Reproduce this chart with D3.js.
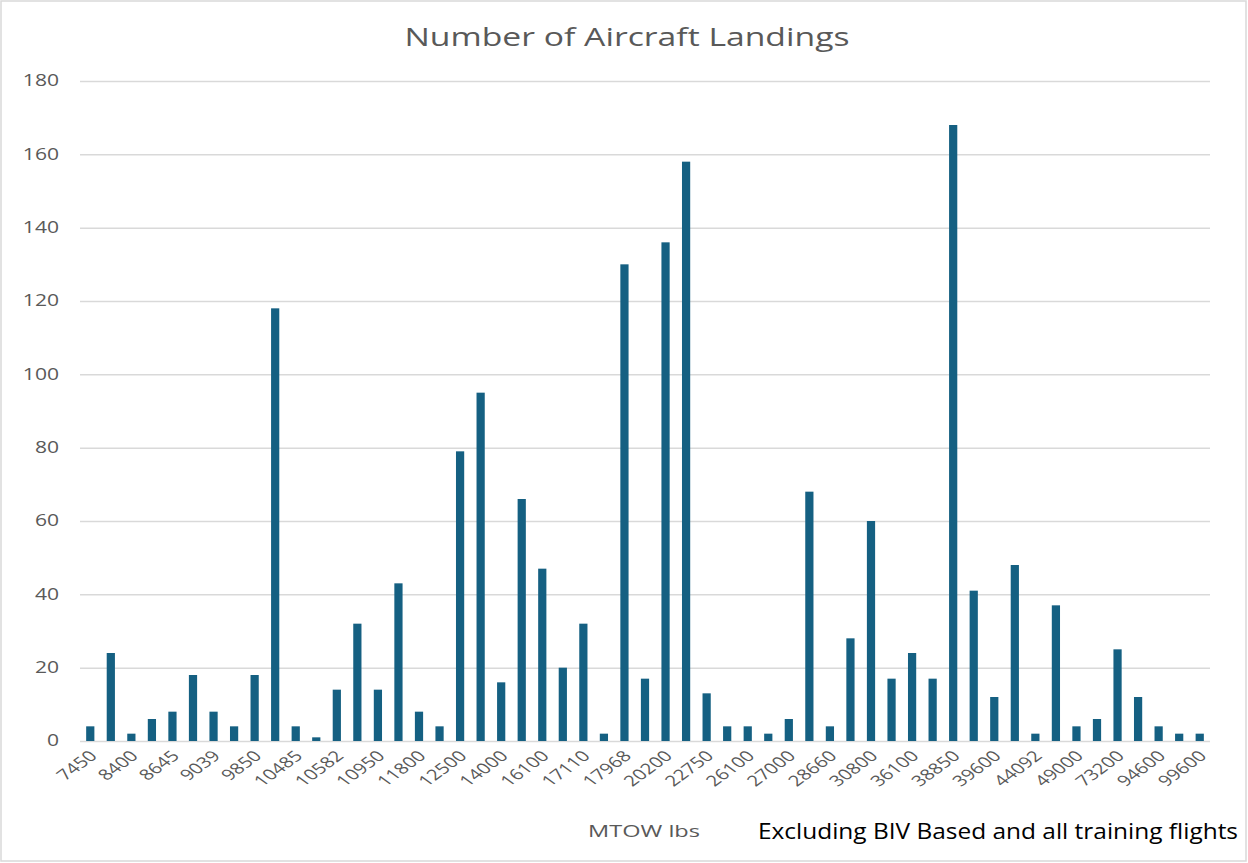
<!DOCTYPE html>
<html>
<head>
<meta charset="utf-8">
<script src="https://cdn.jsdelivr.net/npm/d3@7"></script>
<style>
  body { margin: 0; background: #fff; }
  text { font-family: "Open Sans", sans-serif; }
</style>
</head>
<body>
<svg id="chart"></svg>
<script>
const categories = [
  "7450", "7500", "8400", "8500", "8645", "8800", "9039", "9300", "9850", "10000",
  "10485", "10500", "10582", "10600", "10950", "11000", "11800", "12000", "12500", "13000",
  "14000", "15000", "16100", "16500", "17110", "17500", "17968", "19000", "20200", "21000",
  "22750", "24000", "26100", "26500", "27000", "28000", "28660", "29000", "30800", "33000",
  "36100", "38000", "38850", "39000", "39600", "42000", "44092", "47000", "49000", "60000",
  "73200", "85000", "94600", "98000", "99600"
];
const landings = [
  4, 24, 2, 6, 8, 18, 8, 4, 18, 118,
  4, 1, 14, 32, 14, 43, 8, 4, 79, 95,
  16, 66, 47, 20, 32, 2, 130, 17, 136, 158,
  13, 4, 4, 2, 6, 68, 4, 28, 60, 17,
  24, 17, 168, 41, 12, 48, 2, 37, 4, 6,
  25, 12, 4, 2, 2
];
const yTicks = [0, 20, 40, 60, 80, 100, 120, 140, 160, 180];

const width = 1248, height = 863;
const margin = { top: 81, right: 38, bottom: 122, left: 80 };
const stretch = 1.36; // the picture's text is wider than tall

const svg = d3.select("#chart").attr("width", width).attr("height", height);

// chart border
svg.append("rect")
  .attr("x", 1).attr("y", 1)
  .attr("width", width - 3).attr("height", height - 3)
  .attr("fill", "#fff")
  .attr("stroke", "#d9d9d9")
  .attr("stroke-width", 1.5);

const x = d3.scaleBand()
  .domain(d3.range(categories.length))
  .range([margin.left, width - margin.right])
  .paddingInner(0.6)
  .paddingOuter(0.3);

const y = d3.scaleLinear()
  .domain([0, 180])
  .range([height - margin.bottom, margin.top]);

// gridlines + y labels
const yAxis = svg.append("g")
  .attr("transform", `translate(${margin.left},0)`)
  .call(d3.axisLeft(y).tickValues(yTicks).tickSize(-(width - margin.left - margin.right)).tickPadding(0));
yAxis.select(".domain").remove();
yAxis.selectAll(".tick line").attr("stroke", "#d9d9d9").attr("stroke-width", 1.5);
yAxis.selectAll(".tick text")
  .attr("fill", "#595959")
  .attr("x", null)
  .style("font-size", "15.5px")
  .attr("transform", `translate(-21,0) scale(${stretch},1)`);

// bars
svg.append("g")
  .selectAll("rect")
  .data(landings)
  .join("rect")
  .attr("x", (d, i) => x(i))
  .attr("width", x.bandwidth())
  .attr("y", (d) => y(d))
  .attr("height", (d) => y(0) - y(d))
  .attr("fill", "#156082");

// x labels, every other category
const xAxis = svg.append("g")
  .attr("transform", `translate(0,${height - margin.bottom})`)
  .call(d3.axisBottom(x)
    .tickValues(d3.range(0, categories.length, 2))
    .tickFormat((i) => categories[i])
    .tickSize(0)
    .tickPadding(0));
xAxis.select(".domain").remove();
xAxis.selectAll(".tick text")
  .attr("fill", "#595959")
  .style("font-size", "15px")
  .attr("text-anchor", "end")
  .attr("y", 0)
  .attr("dy", null)
  .attr("transform", `translate(8,16) scale(${stretch},1) rotate(-45)`);

// title
svg.append("text")
  .attr("x", 627).attr("y", 46)
  .attr("text-anchor", "middle")
  .attr("fill", "#595959")
  .attr("textLength", 445)
  .attr("lengthAdjust", "spacingAndGlyphs")
  .style("font-size", "25px")
  .text("Number of Aircraft Landings");

// axis title
svg.append("text")
  .attr("x", 644).attr("y", 837)
  .attr("text-anchor", "middle")
  .attr("fill", "#595959")
  .attr("textLength", 112)
  .attr("lengthAdjust", "spacingAndGlyphs")
  .style("font-size", "16px")
  .text("MTOW lbs");

// note
svg.append("text")
  .attr("x", 1238).attr("y", 839)
  .attr("text-anchor", "end")
  .attr("fill", "#000")
  .attr("textLength", 480)
  .attr("lengthAdjust", "spacingAndGlyphs")
  .style("font-size", "21px")
  .text("Excluding BIV Based and all training flights");
</script>
</body>
</html>
